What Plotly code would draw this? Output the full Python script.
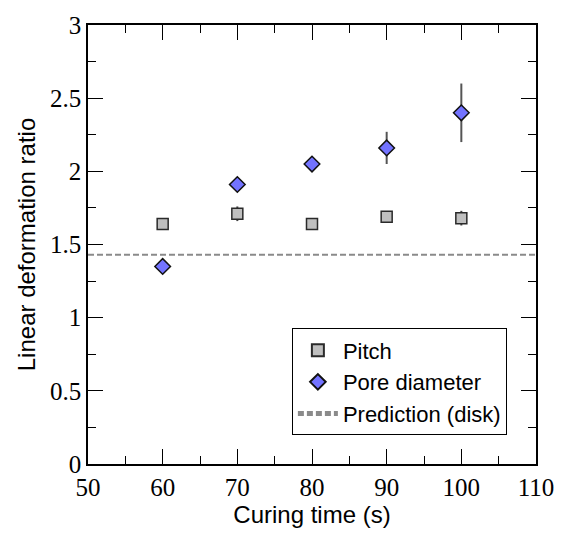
import plotly.graph_objects as go

curing_time = [60, 70, 80, 90, 100]
pitch = [1.64, 1.71, 1.64, 1.69, 1.68]
pitch_err = [0.02, 0.05, 0.03, 0.02, 0.05]
pore = [1.35, 1.91, 2.05, 2.16, 2.40]
pore_err = [0.02, 0.03, 0.05, 0.11, 0.20]
prediction = 1.43
x_range = [50, 110]
y_range = [0, 3]

fig = go.Figure()
fig.add_trace(go.Scatter(
    x=curing_time, y=pitch, mode="markers", name="Pitch",
    marker=dict(symbol="square", size=11, color="#bfbfbf",
                line=dict(color="#2a2a2a", width=1.5)),
    error_y=dict(type="data", array=pitch_err, color="#444444", thickness=2, width=0),
))
fig.add_trace(go.Scatter(
    x=curing_time, y=pore, mode="markers", name="Pore diameter",
    marker=dict(symbol="diamond", size=12, color="#7373ff",
                line=dict(color="#111111", width=1.5)),
    error_y=dict(type="data", array=pore_err, color="#555555", thickness=2, width=0),
))
fig.add_trace(go.Scatter(
    x=x_range, y=[prediction, prediction], mode="lines", name="Prediction (disk)",
    line=dict(color="#8a8a8a", width=2, dash="6px,3px"),
))

tickfont = dict(family="Liberation Serif", size=25, color="black")
titlefont = dict(family="Liberation Sans", size=24, color="black")

fig.update_layout(
    width=567, height=534,
    margin=dict(l=88, r=31, t=15, b=70),
    paper_bgcolor="white", plot_bgcolor="white",
    showlegend=True,
    legend=dict(x=0.935, y=0.065, xanchor="right", yanchor="bottom",
                bordercolor="black", borderwidth=1, bgcolor="white",
                font=dict(family="Liberation Sans", size=22, color="black"),
                tracegroupgap=0, itemsizing="constant", itemwidth=40),
)
fig.update_xaxes(
    range=x_range, dtick=10, tick0=50,
    showline=True, linecolor="black", linewidth=1.5, mirror="ticks",
    ticks="inside", ticklen=15, tickwidth=1.2, tickcolor="black",
    minor=dict(ticks="inside", ticklen=8, dtick=5, tickcolor="black", tickwidth=1.2),
    showgrid=False, zeroline=False,
    tickfont=tickfont,
    title=dict(text="Curing time (s)", font=titlefont, standoff=0),
)
fig.update_yaxes(
    range=y_range, dtick=0.5, tick0=0,
    showline=True, linecolor="black", linewidth=1.5, mirror="ticks",
    ticks="inside", ticklen=15, tickwidth=1.2, tickcolor="black",
    minor=dict(ticks="inside", ticklen=8, dtick=0.25, tickcolor="black", tickwidth=1.2),
    showgrid=False, zeroline=False,
    tickfont=tickfont,
    title=dict(text="Linear deformation ratio", font=titlefont, standoff=8),
)

fig.write_html("out.html")
